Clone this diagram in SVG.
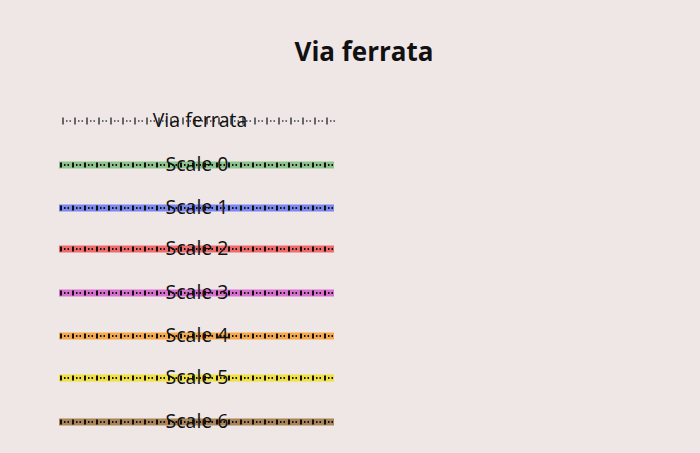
<svg xmlns="http://www.w3.org/2000/svg" width="700" height="453" viewBox="0 0 700 453">
<style>
.band{stroke-width:7;fill:none}
.tick{stroke:#111;stroke-width:5;stroke-dasharray:2 10;fill:none}
.dot{stroke:#111;stroke-width:2;stroke-dasharray:0 4 1.5 2 1.5 3;fill:none}
.lbl{font-family:"Open Sans",sans-serif;font-size:19.5px;fill:#111;text-anchor:middle}
</style>
<rect width="700" height="453" fill="#efe6e6"/>
<text x="364" y="61" font-family="'Open Sans',sans-serif" font-weight="bold" font-size="26" text-anchor="middle" fill="#111">Via ferrata</text>
<g id="connectors"/>
<g id="via-ferrata">
<line x1="62" y1="121" x2="336" y2="121" stroke="#666" stroke-width="7" stroke-dasharray="2 10" fill="none"/>
<line x1="62" y1="121" x2="336" y2="121" stroke="#666" stroke-width="2" stroke-dasharray="0 4 1.5 2 1.5 3" fill="none"/>
<text class="lbl" x="200" y="127">Via ferrata</text>
</g>
<g id="scale0">
<line class="band" x1="59" y1="165" x2="334" y2="165" stroke="#8cc48c"/>
<line class="tick" x1="60" y1="165" x2="334" y2="165"/>
<line class="dot" x1="60" y1="165" x2="334" y2="165"/>
<text class="lbl" x="197" y="171">Scale 0</text>
</g>
<g id="scale1">
<line class="band" x1="59" y1="208" x2="334" y2="208" stroke="#7c86ef"/>
<line class="tick" x1="60" y1="208" x2="334" y2="208"/>
<line class="dot" x1="60" y1="208" x2="334" y2="208"/>
<text class="lbl" x="197" y="214">Scale 1</text>
</g>
<g id="scale2">
<line class="band" x1="59" y1="249" x2="334" y2="249" stroke="#f06a6a"/>
<line class="tick" x1="60" y1="249" x2="334" y2="249"/>
<line class="dot" x1="60" y1="249" x2="334" y2="249"/>
<text class="lbl" x="197" y="255">Scale 2</text>
</g>
<g id="scale3">
<line class="band" x1="59" y1="293" x2="334" y2="293" stroke="#d770cf"/>
<line class="tick" x1="60" y1="293" x2="334" y2="293"/>
<line class="dot" x1="60" y1="293" x2="334" y2="293"/>
<text class="lbl" x="197" y="299">Scale 3</text>
</g>
<g id="scale4">
<line class="band" x1="59" y1="336" x2="334" y2="336" stroke="#f5a94a"/>
<line class="tick" x1="60" y1="336" x2="334" y2="336"/>
<line class="dot" x1="60" y1="336" x2="334" y2="336"/>
<text class="lbl" x="197" y="342">Scale 4</text>
</g>
<g id="scale5">
<line class="band" x1="59" y1="378" x2="334" y2="378" stroke="#f0e040"/>
<line class="tick" x1="60" y1="378" x2="334" y2="378"/>
<line class="dot" x1="60" y1="378" x2="334" y2="378"/>
<text class="lbl" x="197" y="384">Scale 5</text>
</g>
<g id="scale6">
<line class="band" x1="59" y1="422" x2="334" y2="422" stroke="#a88456"/>
<line class="tick" x1="60" y1="422" x2="334" y2="422"/>
<line class="dot" x1="60" y1="422" x2="334" y2="422"/>
<text class="lbl" x="197" y="428">Scale 6</text>
</g>
</svg>
